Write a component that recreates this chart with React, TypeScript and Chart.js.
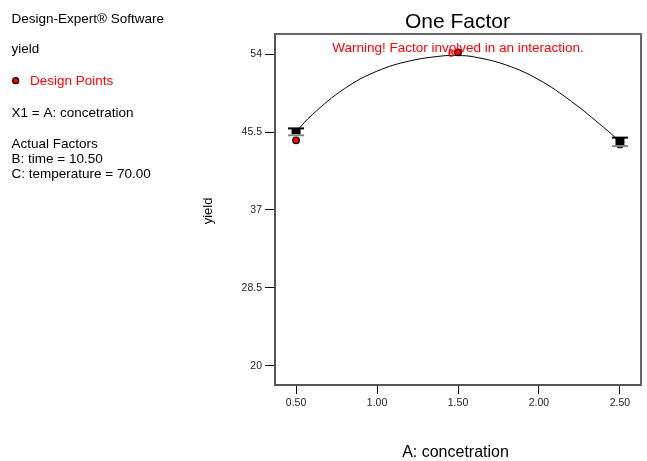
import React, { useEffect, useRef } from "react";
import { Chart, registerables } from "chart.js";

Chart.register(...registerables);

const FONT = "'Liberation Sans', Arial, sans-serif";

// Fitted model curve
const curveX = [0.5, 0.6, 0.8, 1.0, 1.2, 1.4, 1.5, 1.6, 1.8, 2.0, 2.2, 2.4, 2.5];
const curveY = [45.55, 47.4, 50.25, 52.15, 53.25, 53.8, 53.85, 53.7, 52.8, 51.2, 48.85, 46.0, 44.45];

// Design points (red), with replicate count labels
const designX = [0.5, 1.5, 2.5];
const designY = [44.6, 54.2, 44.15];
const designCount = [1, 6, 1];

// LSD bars
const lsdX = [0.5, 2.5];
const lsdHigh = [45.9, 44.89];
const lsdLow = [45.15, 43.97];

// Axes
const xTicks = [0.5, 1.0, 1.5, 2.0, 2.5];
const yTicks = [20, 28.5, 37, 45.5, 54];
const xRange = [0.37, 2.63];
const yRange = [17.9, 56.2];

// Texts
const chartTitle = "One Factor";
const warningText = "Warning! Factor involved in an interaction.";
const xTitle = "A: concetration";
const yTitle = "yield";
const infoHeader = "Design-Expert® Software";
const infoResponse = "yield";
const infoLegend = "Design Points";
const infoFactor = "X1 = A: concetration";
const infoActual = ["Actual Factors", "B: time = 10.50", "C: temperature = 70.00"];

const framePlugin = {
  id: "frame",
  afterDatasetsDraw(chart: any) {
    const { ctx, chartArea: a, scales } = chart;
    const xs = scales.x;
    const ys = scales.y;
    ctx.save();
    // LSD bars
    for (let i = 0; i < lsdX.length; i++) {
      const px = xs.getPixelForValue(lsdX[i]);
      const ph = ys.getPixelForValue(lsdHigh[i]);
      const pl = ys.getPixelForValue(lsdLow[i]);
      ctx.fillStyle = "#000";
      ctx.fillRect(px - 4.5, ph, 9, pl - ph - 1);
      ctx.fillStyle = "#000";
      ctx.fillRect(px - 8, ph - 1, 16, 2);
      ctx.fillStyle = "#888";
      ctx.fillRect(px - 8, pl - 1, 16, 2);
    }
    // replicate labels
    ctx.fillStyle = "#ff0000";
    ctx.font = `bold 11px ${FONT}`;
    ctx.textAlign = "right";
    ctx.textBaseline = "alphabetic";
    for (let i = 0; i < designX.length; i++) {
      if (designCount[i] > 1) {
        const px = xs.getPixelForValue(designX[i]);
        const py = ys.getPixelForValue(designY[i]);
        ctx.fillText(String(designCount[i]), px - 4, py + 4.5);
      }
    }
    // top & right frame
    ctx.strokeStyle = "#666";
    ctx.lineWidth = 2;
    ctx.beginPath();
    ctx.moveTo(a.left, a.top);
    ctx.lineTo(a.right, a.top);
    ctx.lineTo(a.right, a.bottom);
    ctx.stroke();
    ctx.restore();
  },
  afterDraw(chart: any) {
    const { ctx } = chart;
    ctx.save();
    ctx.textBaseline = "alphabetic";
    // title
    ctx.fillStyle = "#000";
    ctx.textAlign = "center";
    ctx.font = `21px ${FONT}`;
    ctx.fillText(chartTitle, 457.5, 28);
    // warning
    ctx.fillStyle = "#ff0000";
    ctx.font = `13.5px ${FONT}`;
    ctx.fillText(warningText, 458, 51.5);
    // x title
    ctx.fillStyle = "#000";
    ctx.font = `16px ${FONT}`;
    ctx.fillText(xTitle, 455.5, 456.5);
    // y title
    ctx.save();
    ctx.translate(212, 211);
    ctx.rotate(-Math.PI / 2);
    ctx.font = `13px ${FONT}`;
    ctx.fillText(yTitle, 0, 0);
    ctx.restore();
    // info panel
    ctx.textAlign = "left";
    ctx.font = `13.5px ${FONT}`;
    ctx.fillStyle = "#000";
    ctx.fillText(infoHeader, 11.5, 22.7);
    ctx.fillText(infoResponse, 11.5, 53);
    ctx.beginPath();
    ctx.arc(15.7, 80.7, 3, 0, Math.PI * 2);
    ctx.fillStyle = "#ff0000";
    ctx.fill();
    ctx.lineWidth = 1.2;
    ctx.strokeStyle = "#000";
    ctx.stroke();
    ctx.fillStyle = "#ff0000";
    ctx.fillText(infoLegend, 30, 85);
    ctx.fillStyle = "#000";
    ctx.fillText(infoFactor, 11.5, 116.7);
    infoActual.forEach((t, i) => ctx.fillText(t, 11.5, 147.7 + i * 15.3));
    ctx.restore();
  },
};

export default function App() {
  const ref = useRef<HTMLCanvasElement | null>(null);
  useEffect(() => {
    if (!ref.current) return;
    const chart = new Chart(ref.current, {
      type: "scatter",
      data: {
        datasets: [
          {
            type: "scatter",
            data: designX.map((x, i) => ({ x, y: designY[i] })),
            backgroundColor: "#ff0000",
            borderColor: "#000",
            borderWidth: 1.2,
            pointRadius: 3.3,
            order: 0,
          } as any,
          {
            type: "line",
            data: curveX.map((x, i) => ({ x, y: curveY[i] })),
            borderColor: "#000",
            borderWidth: 1,
            pointRadius: 0,
            fill: false,
            tension: 0.4,
            order: 1,
          } as any,
        ],
      },
      options: {
        animation: false,
        responsive: false,
        devicePixelRatio: 1,
        layout: { padding: { top: 34, right: 6, left: 0, bottom: 0 } },
        plugins: { legend: { display: false }, tooltip: { enabled: false }, title: { display: false } },
        scales: {
          x: {
            type: "linear",
            min: xRange[0],
            max: xRange[1],
            afterBuildTicks: (s: any) => {
              s.ticks = xTicks.map((v) => ({ value: v }));
            },
            afterFit: (s: any) => {
              s.height = 76;
            },
            ticks: {
              callback: (v: any) => Number(v).toFixed(2),
              font: { family: FONT, size: 10.5 },
              color: "#222",
              padding: 3,
              maxRotation: 0,
            },
            grid: { display: true, drawOnChartArea: false, drawTicks: true, tickLength: 9, tickColor: "#000", tickWidth: 1 },
            border: { display: true, color: "#555", width: 2 },
          },
          y: {
            type: "linear",
            min: yRange[0],
            max: yRange[1],
            afterBuildTicks: (s: any) => {
              s.ticks = yTicks.map((v) => ({ value: v }));
            },
            afterFit: (s: any) => {
              s.width = 275;
            },
            ticks: {
              callback: (v: any) => String(v),
              font: { family: FONT, size: 10.5 },
              color: "#222",
              padding: 3,
            },
            grid: { display: true, drawOnChartArea: false, drawTicks: true, tickLength: 10, tickColor: "#000", tickWidth: 1 },
            border: { display: true, color: "#555", width: 2 },
          },
        },
      },
      plugins: [framePlugin],
    });
    return () => chart.destroy();
  }, []);
  return (
    <div style={{ position: "absolute", left: 0, top: 0, width: 647, height: 461, background: "#fff" }}>
      <canvas ref={ref} width={647} height={461} style={{ width: 647, height: 461, display: "block" }} />
    </div>
  );
}
